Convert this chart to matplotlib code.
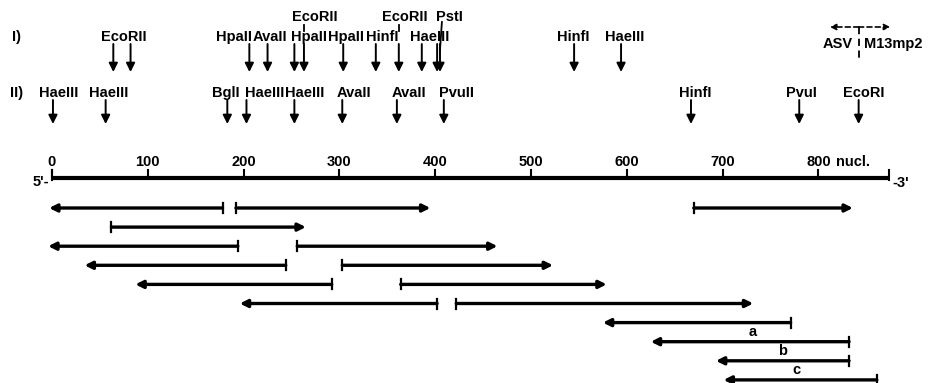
import matplotlib
matplotlib.use("Agg")
import matplotlib.pyplot as plt

plt.rcParams['font.family'] = ['Liberation Sans', 'DejaVu Sans']

# ---- data (nucleotide positions) ----
row1_enz = ["EcoRII", "EcoRII", "HpaII", "AvaII", "HpaII", "EcoRII", "HpaII", "HinfI",
            "EcoRII", "HaeIII", "PstI", "PstI", "HinfI", "HaeIII"]
row1_pos = [64, 82, 206, 225, 253, 263, 304, 338, 362, 386, 402, 405, 545, 594]
row1_lab_text = ["EcoRII", "HpaII", "AvaII", "HpaII", "EcoRII", "HpaII", "HinfI",
                 "EcoRII", "HaeIII", "PstI", "HinfI", "HaeIII"]
row1_lab_pos = [75, 190, 228, 268, 274, 307, 345, 368, 394, 415, 544, 598]
row1_lab_raised = [False, False, False, False, True, False, False, True, False, True, False, False]

row2_enz = ["HaeIII", "HaeIII", "BglI", "HaeIII", "HaeIII", "AvaII", "AvaII", "PvuII",
            "HinfI", "PvuI", "EcoRI"]
row2_pos = [1, 56, 183, 203, 253, 303, 360, 409, 667, 780, 842]
row2_lab_text = ["HaeIII", "HaeIII", "BglI", "HaeIII", "HaeIII", "AvaII", "AvaII", "PvuII",
                 "HinfI", "PvuI", "EcoRI"]
row2_lab_pos = [7, 59, 181, 222, 264, 315, 373, 422, 671, 782, 847]

scale_ticks = [0, 100, 200, 300, 400, 500, 600, 700, 800]
seq_length = 874
junction = 842

frag_start = [178, 192, 670, 62, 194, 256, 244, 303, 292, 364, 402, 422, 771, 832, 832, 861]
frag_end   = [-3, 395, 836, 265, -4, 465, 34, 523, 87, 579, 196, 732, 575, 625, 693, 701]
frag_row   = [0, 0, 0, 1, 2, 2, 3, 3, 4, 4, 5, 5, 6, 7, 8, 9]
frag_label = ["", "", "", "", "", "", "", "", "", "", "", "", "", "a", "b", "c"]
frag_label_pos = [None] * 13 + [731, 763, 777]

# ---- figure ----
W, H = 929, 383
fig = plt.figure(figsize=(W / 100, H / 100), dpi=100)
ax = fig.add_axes([0, 0, 1, 1])
px0, ppn = 52.0, 0.958   # pixel of nt 0, pixels per nucleotide
ax.set_xlim(-px0 / ppn, (W - px0) / ppn)
ax.set_ylim(H, 0)
ax.axis('off')

fs = 10.5
tb = dict(fontsize=fs, fontweight='bold', color='k')
tl = dict(fontsize=10.5, fontweight='bold', color='k')

def site_arrow(x, y0, y1):
    ax.annotate('', xy=(x, y1), xytext=(x, y0),
                arrowprops=dict(arrowstyle='-|>', color='k', lw=1.4,
                                mutation_scale=13, shrinkA=0, shrinkB=0))

# row labels
ax.text(-37, 37, "I)", ha='center', va='center', **tb)
ax.text(-37, 93, "II)", ha='center', va='center', **tb)

# row I
for p in row1_pos:
    site_arrow(p, 44, 72)
for t, p, r in zip(row1_lab_text, row1_lab_pos, row1_lab_raised):
    ax.text(p, 17 if r else 37, t, ha='center', va='center', **tl)
# connector lines for raised labels
ax.plot([263, 263], [25, 31], color='k', lw=1.3)
ax.plot([362, 362], [25, 31], color='k', lw=1.3)
ax.plot([407, 405], [22, 50], color='k', lw=1.3)

# row II
for p in row2_pos:
    site_arrow(p, 100, 124)
for t, p in zip(row2_lab_text, row2_lab_pos):
    ax.text(p, 93, t, ha='center', va='center', **tl)

# ASV / M13mp2 junction
ax.annotate('', xy=(junction - 30, 27), xytext=(junction, 27),
            arrowprops=dict(arrowstyle='-|>', color='k', lw=1.2, ls=(0, (3, 2)),
                            mutation_scale=9, shrinkA=0, shrinkB=0))
ax.annotate('', xy=(junction + 33, 27), xytext=(junction, 27),
            arrowprops=dict(arrowstyle='-|>', color='k', lw=1.2, ls=(0, (3, 2)),
                            mutation_scale=9, shrinkA=0, shrinkB=0))
ax.plot([junction, junction], [27, 62], color='k', lw=1.3, ls=(0, (4, 2.5)))
ax.text(junction - 6, 44, "ASV", ha='right', va='center', **tb)
ax.text(junction + 6, 44, "M13mp2", ha='left', va='center', **tb)

# scale line
ax.plot([0, seq_length], [178, 178], color='k', lw=3, solid_capstyle='butt')
for t in scale_ticks:
    ax.plot([t, t], [170, 178], color='k', lw=1.5)
    ax.text(t, 162, str(t), ha='center', va='center', **tb)
ax.text(818, 162, "nucl.", ha='left', va='center', **tb)
ax.plot([0, 0], [170, 180], color='k', lw=1.5)
ax.plot([seq_length, seq_length], [170, 180], color='k', lw=1.5)
ax.text(-3, 182, "5'-", ha='right', va='center', **tb)
ax.text(seq_length + 3, 183, "-3'", ha='left', va='center', **tb)

# fragments
for s, e, r, lab, lp in zip(frag_start, frag_end, frag_row, frag_label, frag_label_pos):
    y = 208 + 19.1 * r
    ax.annotate('', xy=(e, y), xytext=(s, y),
                arrowprops=dict(arrowstyle='-|>', color='k', lw=2.4,
                                mutation_scale=11, shrinkA=0, shrinkB=0))
    ax.plot([s, s], [y - 5, y + 5], color='k', lw=1.6)
    if lab:
        ax.text(lp, y - 10, lab, ha='center', va='center', **tb)

fig.savefig("out.png", dpi=100)
